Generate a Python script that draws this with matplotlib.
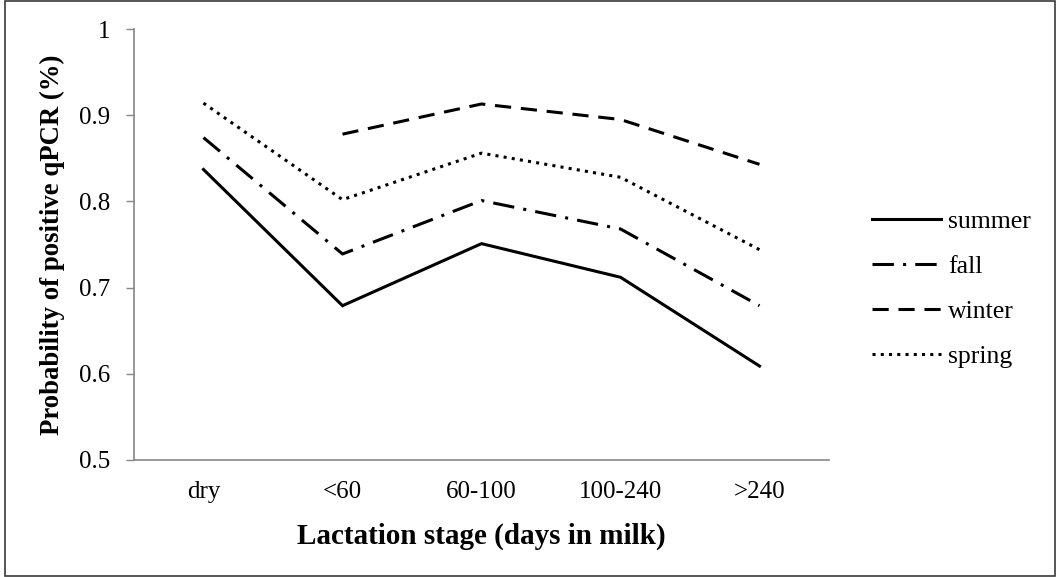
import numpy as np
import matplotlib.pyplot as plt
from matplotlib.patches import Rectangle

# ---- data ----
stages = ['dry', '<60', '60-100', '100-240', '>240']
summer = [0.837, 0.679, 0.751, 0.712, 0.609]
fall = [0.874, 0.739, 0.801, 0.768, 0.679]
winter = [np.nan, 0.878, 0.913, 0.895, 0.843]
spring = [0.914, 0.802, 0.856, 0.828, 0.744]

plt.rcParams['font.family'] = ['Liberation Serif', 'DejaVu Serif']

W, H = 1058, 577
fig = plt.figure(figsize=(W / 100, H / 100), dpi=100)
ax = fig.add_axes([134 / W, 1 - 460 / H, 695 / W, 431 / H])

x = np.arange(len(stages)) + 0.5
lw = 2.2
ax.plot(x, summer, color='black', lw=lw, solid_joinstyle='miter', label='summer')
ax.plot(x, fall, color='black', lw=lw, dashes=(7, 3, 1, 3), label='fall')
ax.plot(x, winter, color='black', lw=lw, dashes=(5.3, 3.2), label='winter')
ax.plot(x, spring, color='black', lw=lw, dashes=(1, 1.7), label='spring')

ax.set_xlim(0, len(stages))
ax.set_ylim(0.5, 1.0)
ax.set_xticks(x)
ax.set_xticklabels(stages)
ax.set_yticks([0.5, 0.6, 0.7, 0.8, 0.9, 1.0])
ax.set_yticklabels(['0.5', '0.6', '0.7', '0.8', '0.9', '1'])
ax.tick_params(axis='x', length=0, pad=15, labelsize=18)
ax.tick_params(axis='y', length=6, width=1, color='#868686', pad=11, labelsize=18)

for s in ['top', 'right']:
    ax.spines[s].set_visible(False)
for s in ['left', 'bottom']:
    ax.spines[s].set_color('#868686')
    ax.spines[s].set_linewidth(1.2)

ax.set_xlabel('Lactation stage (days in milk)', fontsize=21, fontweight='bold', labelpad=14)
ax.set_ylabel('Probability of positive qPCR (%)', fontsize=19.3, fontweight='bold', labelpad=10)

fig.legend(*ax.get_legend_handles_labels(), loc='center left',
           bbox_to_anchor=(872 / W, 1 - 289 / H), frameon=False, fontsize=18.5,
           borderpad=0, borderaxespad=0, handlelength=2.7, handletextpad=0.27,
           labelspacing=0.85)

# outer border around chart area
fig.patches.append(Rectangle((5 / W, 1 / H), 1050 / W, 575 / H,
                             transform=fig.transFigure, fill=False,
                             edgecolor='#3a3a3a', lw=1.2))

fig.savefig('out.png', dpi=100)
